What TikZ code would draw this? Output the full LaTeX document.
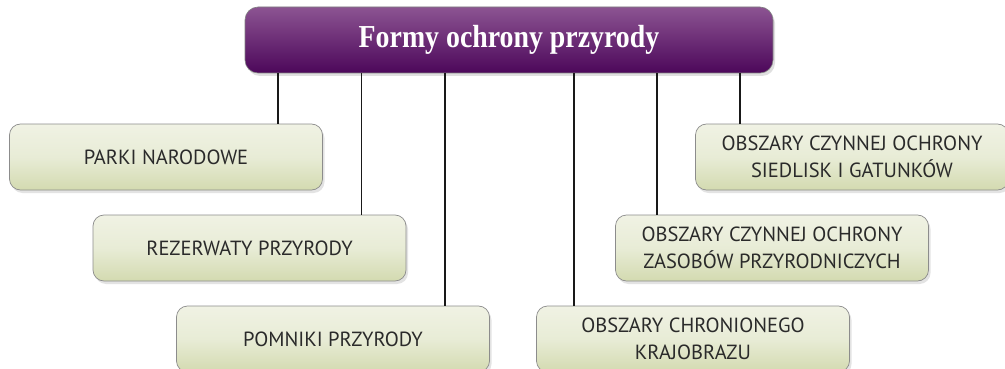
\documentclass[tikz,border=0pt]{standalone}
\usepackage{fontspec}
\setsansfont{PT Sans}
\newfontfamily\titlefont{Liberation Serif}
\usetikzlibrary{shadows,calc}
\definecolor{txt}{HTML}{2A2A2A}
\definecolor{boxtop}{HTML}{F0F2E4}
\definecolor{boxmid}{HTML}{E8ECD6}
\definecolor{boxbot}{HTML}{D3DAB0}
\definecolor{boxline}{HTML}{8C8C8C}
\definecolor{ttop}{HTML}{8C5492}
\definecolor{tmid}{HTML}{6C1A74}
\definecolor{tbot}{HTML}{4C075A}
\begin{document}
\begin{tikzpicture}[x=1pt,y=-1pt,
  boxstyle/.style={rectangle, rounded corners=11pt, draw=boxline, line width=0.7pt,
    top color=boxtop, bottom color=boxbot, middle color=boxmid,
    minimum width=313pt, minimum height=66pt, inner sep=0pt, align=center,
    font=\sffamily\fontsize{20.5}{27}\selectfont, text=txt,
    drop shadow={opacity=0.22, shadow xshift=2pt, shadow yshift=-3pt}},
  titlestyle/.style={rectangle, rounded corners=13pt, draw=gray, line width=0.6pt,
    top color=ttop, middle color=tmid, bottom color=tbot,
    minimum width=528pt, minimum height=66pt, inner sep=0pt,
    font=\titlefont\bfseries\fontsize{32}{36}\selectfont, text=white,
    drop shadow={opacity=0.25, shadow xshift=2pt, shadow yshift=-3pt}},
  conn/.style={line width=1.5pt, draw=black!90}
]
\useasboundingbox (0,0) rectangle (1005,369);
\fill[white] (0,0) rectangle (1005,369);
\clip (0,0) rectangle (1005,369);

\node[titlestyle] (title) at (509,40) {\scalebox{0.87}[1]{Formy ochrony przyrody}};

\node[boxstyle] (b1) at (166,157) {PARKI NARODOWE};
\node[boxstyle] (b2) at (249.5,248) {REZERWATY PRZYRODY};
\node[boxstyle] (b3) at (333,339) {POMNIKI PRZYRODY};
\node[boxstyle] (b4) at (693,339) {OBSZARY CHRONIONEGO\\KRAJOBRAZU};
\node[boxstyle] (b5) at (772,248) {OBSZARY CZYNNEJ OCHRONY\\ZASOBÓW PRZYRODNICZYCH};
\node[boxstyle] (b6) at (852,157) {OBSZARY CZYNNEJ OCHRONY\\SIEDLISK I GATUNKÓW};

\draw[conn] ([xshift=-45pt]b1.north east) -- ([xshift=-45pt]b1.north east |- title.south);
\draw[conn] ([xshift=-45pt]b2.north east) -- ([xshift=-45pt]b2.north east |- title.south);
\draw[conn] ([xshift=-45pt]b3.north east) -- ([xshift=-45pt]b3.north east |- title.south);
\draw[conn] ([xshift=38pt]b4.north west) -- ([xshift=38pt]b4.north west |- title.south);
\draw[conn] ([xshift=42pt]b5.north west) -- ([xshift=42pt]b5.north west |- title.south);
\draw[conn] ([xshift=45pt]b6.north west) -- ([xshift=45pt]b6.north west |- title.south);
\end{tikzpicture}
\end{document}
